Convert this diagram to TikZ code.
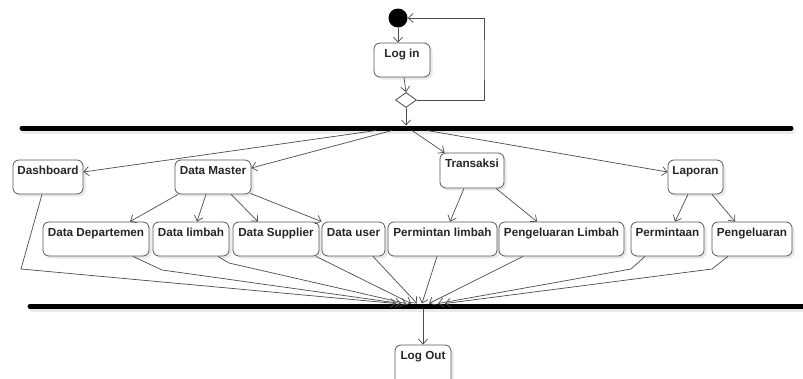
\documentclass[tikz,border=0pt]{standalone}
\usepackage{fontspec}
\setmainfont{Liberation Sans}
\usetikzlibrary{arrows.meta,shapes.geometric,shadows}
\begin{document}
\begin{tikzpicture}[x=1pt,y=-1pt,
  box/.style={draw=black!65, line width=0.8pt, rounded corners=6pt, fill=white, inner sep=0pt,
    drop shadow={shadow xshift=2.5pt,shadow yshift=-2.5pt,fill=black!9,opacity=1,draw=none}},
  lbl/.style={anchor=north, inner sep=0pt, text height=8.5pt, text depth=2pt, yshift=-6.5pt,
    font=\fontsize{11.7}{14}\selectfont\bfseries, text=black!85},
  conn/.style={draw=black!70, line width=0.7pt},
  arr/.style={conn, -{Straight Barb[length=5pt,width=9pt]}},
  syncbar/.style={line width=5pt, line cap=round, draw=black},
  barshadow/.style={line width=5pt, line cap=round, draw=black!8}
]
\useasboundingbox (0,0) rectangle (803,378);
\clip (0,0) rectangle (803,378);
\fill[white] (0,0) rectangle (803,378);

% synchronisation bars
\draw[barshadow] (24,131) -- (793,131);
\draw[syncbar] (22,128) -- (791,128);
\draw[barshadow] (32,309.5) -- (805,309.5);
\draw[syncbar] (30,306.5) -- (803,306.5);

% top
\node[circle, fill=black, minimum size=19pt, inner sep=0pt] (start) at (398,18) {};
\node[box, minimum width=56pt, minimum height=34pt, label={[lbl]north:Log in}] (login) at (402,60) {};
\node[diamond, draw=black!70, line width=0.8pt, fill=white, inner sep=0pt, minimum width=21pt, minimum height=15pt] (dia) at (406,100) {};
\coordinate (loopc) at (484,60);
\coordinate (t0) at (406,125.5);

% row 1
\node[box, minimum width=70pt, minimum height=34pt, label={[lbl]north:Dashboard}] (dash) at (48,177) {};
\node[box, minimum width=76pt, minimum height=34pt, label={[lbl]north:Data Master}] (dm) at (213,177) {};
\node[box, minimum width=64pt, minimum height=35pt, label={[lbl]north:Transaksi}] (tr) at (472,170.5) {};
\node[box, minimum width=55pt, minimum height=34pt, label={[lbl]north:Laporan}] (lp) at (695.5,177) {};

% row 2
\node[box, minimum width=106pt, minimum height=34pt, label={[lbl]north:Data Departemen}] (dd) at (96,239) {};
\node[box, minimum width=76pt, minimum height=34pt, label={[lbl]north:Data limbah}] (dl) at (191,239) {};
\node[box, minimum width=86pt, minimum height=34pt, label={[lbl]north:Data Supplier}] (ds) at (276,239) {};
\node[box, minimum width=63pt, minimum height=34pt, label={[lbl]north:Data user}] (du) at (353.5,239) {};
\node[box, minimum width=109pt, minimum height=34pt, label={[lbl]north:Permintan limbah}] (pl) at (442.5,239) {};
\node[box, minimum width=125pt, minimum height=34pt, label={[lbl]north:Pengeluaran Limbah}] (pgl) at (561.5,239) {};
\node[box, minimum width=73pt, minimum height=34pt, label={[lbl]north:Permintaan}] (pm) at (667.5,239) {};
\node[box, minimum width=80pt, minimum height=34pt, label={[lbl]north:Pengeluaran}] (pg) at (752,239) {};

% log out (cut off by the lower edge)
\node[box, minimum width=56pt, minimum height=40pt, label={[lbl]north:Log Out}] (lo) at (423,365) {};

% bar points
\coordinate (t1) at (376,130.5);
\coordinate (t2) at (392,130.5);
\coordinate (t3) at (412,130.5);
\coordinate (t4) at (427,130.5);
\coordinate (b0) at (423,309);
\coordinate (b1) at (396,303.5);
\coordinate (b2) at (401,303.5);
\coordinate (b3) at (406,303.5);
\coordinate (b4) at (411,303.5);
\coordinate (b5) at (417,303.5);
\coordinate (b6) at (422,303.5);
\coordinate (b7) at (429,303.5);
\coordinate (b8) at (438,303.5);
\coordinate (b9) at (445,303.5);

% top connectors
\draw[arr] (start) -- (start |- login.north);
\draw[arr] ([xshift=2pt]login.south) -- (dia.north);
\draw[arr] (dia.east) -| (loopc) |- (start.east);
\draw[arr] (dia.south) -- (t0);

% bar to row 1
\draw[arr] (t1) -- ([yshift=5pt]dash.east);
\draw[arr] (t2) -- ([yshift=9pt]dm.east);
\draw[arr] (t3) -- ([xshift=5pt]tr.north west);
\draw[arr] (t4) -- ([yshift=5pt]lp.west);

% row 1 to row 2
\draw[arr] ([xshift=-35pt]dm.south) -- ([xshift=34pt]dd.north);
\draw[arr] ([xshift=-7pt]dm.south) -- ([xshift=6pt]dl.north);
\draw[arr] ([xshift=18pt]dm.south) -- ([xshift=-18pt]ds.north);
\draw[arr] ([xshift=-1pt,yshift=1pt]dm.south east) -- (du.north west);
\draw[arr] ([xshift=-8pt]tr.south) -- ([xshift=7.5pt]pl.north);
\draw[arr] ([xshift=24pt]tr.south) -- ([xshift=-24.5pt]pgl.north);
\draw[arr] ([xshift=-7.5pt]lp.south) -- ([xshift=7.5pt]pm.north);
\draw[arr] ([xshift=16.5pt]lp.south) -- ([xshift=-17pt]pg.north);

% to bottom bar
\draw[arr] ([xshift=-6pt]dash.south) -- (21,269) -- (b1);
\draw[arr] ([xshift=37pt]dd.south) -- (162,270) -- (b2);
\draw[arr] ([xshift=27pt]dl.south) -- (229,263) -- (b3);
\draw[arr] ([xshift=40pt]ds.south) -- (b4);
\draw[arr] ([xshift=19.5pt]du.south) -- (b5);
\draw[arr] ([xshift=-5.5pt]pl.south) -- (b6);
\draw[arr] ([xshift=-38.5pt]pgl.south) -- (b7);
\draw[arr] ([xshift=-22.5pt]pm.south) -- (631,269) -- (b8);
\draw[arr] ([xshift=-24pt]pg.south) -- (712,269) -- (b9);

% bottom bar to log out
\draw[arr] (b0) -- (lo.north);
\end{tikzpicture}
\end{document}
